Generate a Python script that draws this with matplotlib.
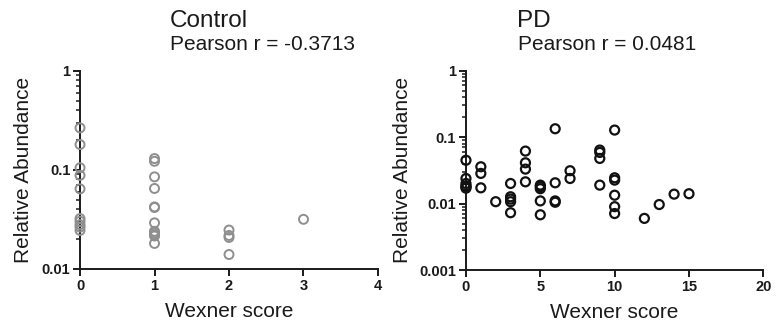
import matplotlib
matplotlib.use('Agg')
import matplotlib.pyplot as plt
from matplotlib.ticker import LogLocator, FixedLocator, NullFormatter, FixedFormatter

plt.rcParams['font.family'] = ['Liberation Sans', 'DejaVu Sans']

# Control group: Wexner score vs relative abundance
control_score = [0, 0, 0, 0, 0, 0, 0, 0, 0, 0,
                 1, 1, 1, 1, 1, 1, 1, 1, 1, 1, 1, 1,
                 2, 2, 2, 2,
                 3]
control_abund = [0.265, 0.180, 0.105, 0.088, 0.0643, 0.0323, 0.0303, 0.028, 0.0265, 0.0245,
                 0.130, 0.122, 0.085, 0.0649, 0.0423, 0.0417, 0.0292, 0.024, 0.0231, 0.0222, 0.0215, 0.0181,
                 0.0247, 0.0218, 0.0208, 0.0140,
                 0.0317]

# PD group
pd_score = [0, 0, 0, 0, 0, 0,
            1, 1, 1,
            2,
            3, 3, 3, 3, 3,
            4, 4, 4, 4,
            5, 5, 5, 5, 5,
            6, 6, 6, 6,
            7, 7,
            9, 9, 9, 9,
            10, 10, 10, 10, 10, 10,
            12, 13, 14, 15]
pd_abund = [0.045, 0.0239, 0.0201, 0.0185, 0.0179, 0.0171,
            0.0359, 0.0285, 0.0173,
            0.0107,
            0.0201, 0.0127, 0.0117, 0.0107, 0.0073,
            0.0618, 0.0412, 0.0331, 0.0213,
            0.019, 0.018, 0.0168, 0.011, 0.0068,
            0.134, 0.0206, 0.011, 0.0105,
            0.0313, 0.0239,
            0.064, 0.059, 0.0479, 0.019,
            0.128, 0.0245, 0.0226, 0.0134, 0.0090, 0.0071,
            0.0060, 0.0097, 0.0139, 0.0141]

fig = plt.figure(figsize=(7.8, 3.29), dpi=100)
ax1 = fig.add_axes([0.1026, 0.1824, 0.382, 0.6026])
ax2 = fig.add_axes([0.5974, 0.179, 0.3812, 0.606])

text_color = '#1a1a1a'


def style_axis(ax, xticks, ylim, yticks, ylabels):
    ax.set_yscale('log')
    ax.set_xlim(xticks[0], xticks[-1])
    ax.set_ylim(*ylim)
    for side in ('top', 'right'):
        ax.spines[side].set_visible(False)
    for side in ('left', 'bottom'):
        ax.spines[side].set_linewidth(1.4)
        ax.spines[side].set_color(text_color)
    ax.xaxis.set_major_locator(FixedLocator(xticks))
    ax.set_xticklabels([str(t) for t in xticks])
    ax.yaxis.set_major_locator(FixedLocator(yticks))
    ax.yaxis.set_major_formatter(FixedFormatter(ylabels))
    ax.yaxis.set_minor_locator(LogLocator(base=10, subs=range(2, 10)))
    ax.yaxis.set_minor_formatter(NullFormatter())
    ax.tick_params(which='major', direction='out', length=5, width=1.4,
                   color=text_color, labelsize=10.5, pad=2)
    ax.tick_params(which='minor', direction='out', length=3, width=1.1, color=text_color)
    for lab in ax.get_xticklabels() + ax.get_yticklabels():
        lab.set_fontweight('bold')
        lab.set_color(text_color)
    ax.set_xlabel('Wexner score', fontsize=15, color=text_color)
    ax.set_ylabel('Relative Abundance', fontsize=15, color=text_color)
    ax.xaxis.label.set_verticalalignment('center')
    ax.yaxis.label.set_verticalalignment('center')


ax1.scatter(control_score, control_abund, s=42, facecolors='none',
            edgecolors='#8f8f8f', linewidths=1.4, clip_on=False, zorder=3)
style_axis(ax1, [0, 1, 2, 3, 4], (0.01, 1), [0.01, 0.1, 1], ['0.01', '0.1', '1'])
ax1.xaxis.set_label_coords(0.5, -0.215)
ax1.yaxis.set_label_coords(-0.191, 0.5)

ax2.scatter(pd_score, pd_abund, s=42, facecolors='none',
            edgecolors='#111111', linewidths=1.6, clip_on=False, zorder=3)
style_axis(ax2, [0, 5, 10, 15, 20], (0.001, 1), [0.001, 0.01, 0.1, 1],
           ['0.001', '0.01', '0.1', '1'])
ax2.xaxis.set_label_coords(0.5, -0.215)
ax2.yaxis.set_label_coords(-0.215, 0.5)

fig.text(170 / 780, 1 - 26.7 / 329, 'Control', fontsize=17.5, color=text_color, va='baseline')
fig.text(170 / 780, 1 - 50 / 329, 'Pearson r = -0.3713', fontsize=15, color=text_color, va='baseline')
fig.text(517 / 780, 1 - 26.7 / 329, 'PD', fontsize=17.5, color=text_color, va='baseline')
fig.text(518 / 780, 1 - 50 / 329, 'Pearson r = 0.0481', fontsize=15, color=text_color, va='baseline')

fig.savefig('out.png', dpi=100)
